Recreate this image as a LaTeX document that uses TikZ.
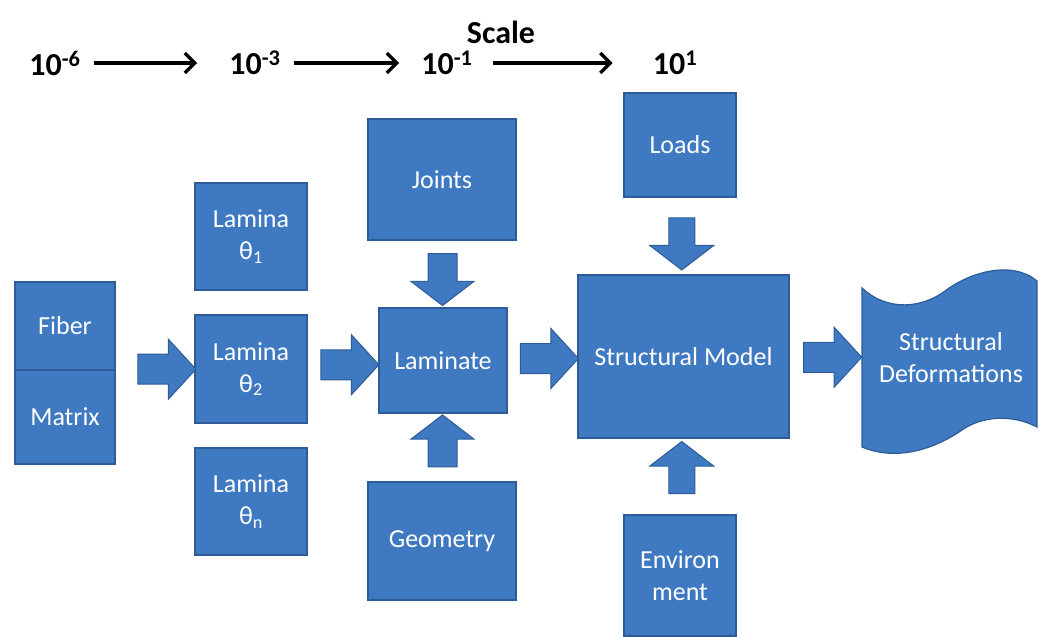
\documentclass[tikz,border=0pt]{standalone}
\usepackage{fontspec}
\setmainfont{Carlito}
\usetikzlibrary{shapes.arrows,arrows.meta,calc}
\definecolor{boxfill}{RGB}{62,121,194}
\definecolor{boxline}{RGB}{46,92,152}
\tikzset{
  box/.style={draw=boxline, line width=1.2pt, fill=boxfill, text=white, align=center,
    font=\fontsize{26}{32}\selectfont, inner sep=2pt},
  blockarrow/.style={single arrow, draw=boxline, line width=1pt, fill=boxfill,
    inner sep=14.5pt, single arrow head extend=15pt, minimum height=58pt,
    single arrow tip angle=95},
  varrow/.style={blockarrow, minimum height=52pt, inner sep=14pt, single arrow head extend=17pt, single arrow tip angle=105},
  toplbl/.style={font=\fontsize{32}{36}\selectfont\bfseries, inner sep=0pt},
  scalearrow/.style={line width=3.4pt, -{Straight Barb[length=10pt,width=20pt,line width=3.4pt]}}
}
\begin{document}
\begin{tikzpicture}[x=1pt,y=-1pt]
\useasboundingbox (0,0) rectangle (1039,637);
% scale row
\node[toplbl] (scale) at (501,32) {Scale};
\node[toplbl] (s6) at (55,63) {10\textsuperscript{-6}};
\node[toplbl] (s3) at (255,63) {10\textsuperscript{-3}};
\node[toplbl] (s1) at (447,63) {10\textsuperscript{-1}};
\node[toplbl] (t1) at (675,63) {10\textsuperscript{1}};
\draw[scalearrow, shorten <=13pt, shorten >=32pt] (s6.east) -- (s3.west |- s6.east);
\draw[scalearrow, shorten <=13pt, shorten >=22pt] (s3.east) -- (s1.west |- s3.east);
\draw[scalearrow, shorten <=20pt, shorten >=40pt] (s1.east) -- (t1.west |- s1.east);
% boxes
\node[box, minimum width=100pt, minimum height=88pt] (fiber) at (65,326) {Fiber};
\node[box, minimum width=100pt, minimum height=94pt] (matrix) at (65,417) {Matrix};
\node[box, minimum width=112pt, minimum height=107pt] (l1) at (251,236.5) {Lamina\\θ\textsubscript{1}};
\node[box, minimum width=112pt, minimum height=108pt] (l2) at (251,369) {Lamina\\θ\textsubscript{2}};
\node[box, minimum width=112pt, minimum height=107pt] (ln) at (251,501.5) {Lamina\\θ\textsubscript{n}};
\node[box, minimum width=148pt, minimum height=121pt] (joints) at (442,179.5) {Joints};
\node[box, minimum width=128pt, minimum height=105pt] (lam) at (443,360.5) {Laminate};
\node[box, minimum width=148pt, minimum height=118pt] (geo) at (442,541) {Geometry};
\node[box, minimum width=211pt, minimum height=163pt] (sm) at (683.5,356.5) {Structural Model};
\node[box, minimum width=112pt, minimum height=104pt] (loads) at (680,145) {Loads};
\node[box, minimum width=112pt, minimum height=121pt] (env) at (680,575.5) {Environ\\ment};
% tape shape
\filldraw[fill=boxfill, draw=boxline, line width=1.2pt]
  (862,288) .. controls (888,312) and (922,308) .. (945,291)
  .. controls (970,272) and (1012,260) .. (1037,281)
  -- (1037,427)
  .. controls (1012,414) and (982,416) .. (962,430)
  .. controls (936,448) and (898,462) .. (862,447) -- cycle;
\node[box, draw=none, fill=none] (defo) at (951,358) {Structural\\Deformations};
% block arrows
\node[blockarrow] (a1) at ($(matrix.north east)!0.5!(l2.west)+(5,0)$) {};
\node[blockarrow] (a2) at ($(l2.east)!0.5!(lam.west)$) {};
\node[blockarrow] (a3) at ($(lam.east)!0.5!(sm.west)$) {};
\node[blockarrow] (a4) at ($(sm.east)!0.5!(defo.west -| 862,0)$) {};
\node[varrow, shape border rotate=270] (a5) at ($(joints.south)!0.5!(lam.north)$) {};
\node[varrow, shape border rotate=90] (a6) at ($(geo.north)!0.5!(lam.south)+(0,-1)$) {};
\node[varrow, shape border rotate=270, inner sep=12.5pt, single arrow head extend=19pt] (a7) at ($(loads.south)!0.5!(sm.north)+(0,3)$) {};
\node[varrow, shape border rotate=90, inner sep=12.5pt, single arrow head extend=19pt] (a8) at ($(env.north)!0.5!(sm.south)+(0,-4)$) {};
\end{tikzpicture}
\end{document}
